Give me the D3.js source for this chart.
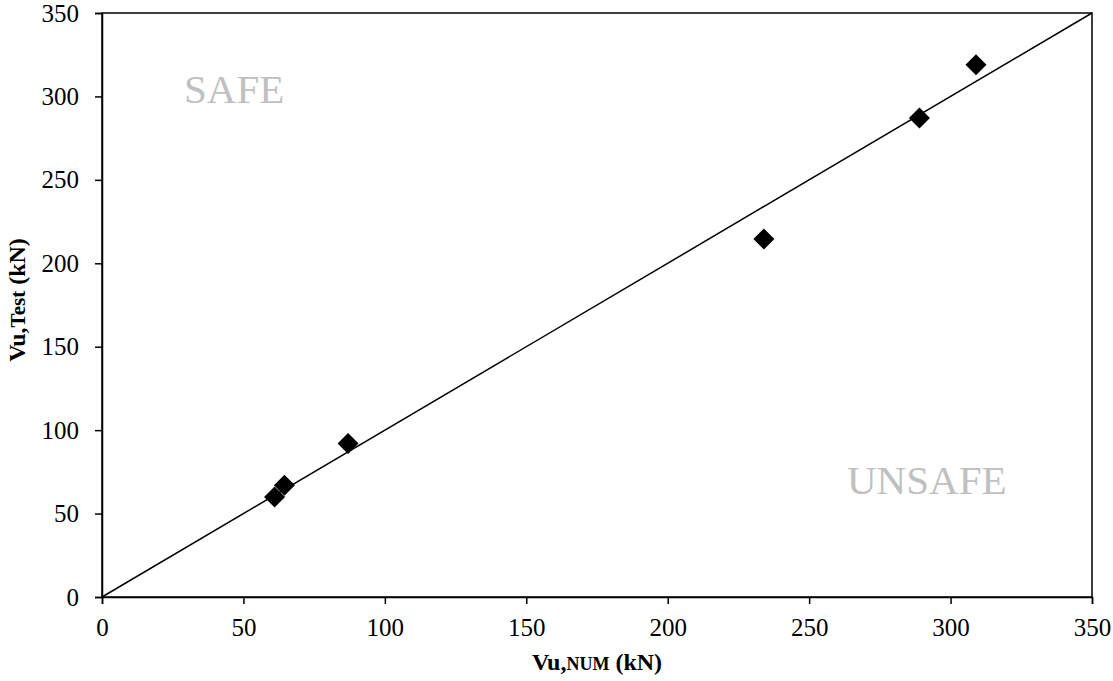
<!DOCTYPE html>
<html><head><meta charset="utf-8">
<script src="https://cdn.jsdelivr.net/npm/d3@7"></script>
<style>body{margin:0;background:#fff}svg{display:block}</style>
</head><body>
<script>
const vuNum = [61, 64.5, 87, 234, 289, 309];
const vuTest = [60, 67, 92, 214.5, 287, 319];
const xTicks = [0, 50, 100, 150, 200, 250, 300, 350];
const yTicks = [0, 50, 100, 150, 200, 250, 300, 350];
const lineNum = [0, 350];
const lineTest = [0, 350];

const W = 1113, H = 681;
const m = {left: 102, right: 21, top: 13, bottom: 84};
const svg = d3.select("body").append("svg").attr("width", W).attr("height", H);
const x = d3.scaleLinear().domain([0, 350]).range([m.left, W - m.right]);
const y = d3.scaleLinear().domain([0, 350]).range([H - m.bottom, m.top]);
const font = "Liberation Serif, Times New Roman, serif";

// frame
svg.append("rect").attr("x", x(0)).attr("y", y(350)).attr("width", x(350) - x(0)).attr("height", y(0) - y(350))
  .attr("fill", "none").attr("stroke", "#000").attr("stroke-width", 1.5);

const xa = svg.append("g").attr("transform", `translate(0,${y(0)})`)
  .call(d3.axisBottom(x).tickValues(xTicks).tickSize(7).tickPadding(14));
const ya = svg.append("g").attr("transform", `translate(${x(0)},0)`)
  .call(d3.axisLeft(y).tickValues(yTicks).tickSize(7).tickPadding(16));
[xa, ya].forEach(a => {
  a.attr("font-family", null).attr("font-size", null);
  a.select(".domain").attr("stroke", "#000").attr("stroke-width", 1.5);
  a.selectAll(".tick line").attr("stroke", "#000").attr("stroke-width", 1.5);
  a.selectAll("text").style("font-family", font).style("font-size", "25px").attr("fill", "#000");
});

// diagonal
svg.append("line").attr("x1", x(lineNum[0])).attr("y1", y(lineTest[0]))
  .attr("x2", x(lineNum[1])).attr("y2", y(lineTest[1])).attr("stroke", "#000").attr("stroke-width", 1.5);

// points
const d = 10.5;
svg.selectAll("path.pt").data(vuNum.map((v, i) => [v, vuTest[i]])).enter().append("path")
  .attr("d", p => `M${x(p[0])},${y(p[1]) - d}L${x(p[0]) + d},${y(p[1])}L${x(p[0])},${y(p[1]) + d}L${x(p[0]) - d},${y(p[1])}Z`)
  .attr("fill", "#000");

// region labels
svg.append("text").attr("x", 184).attr("y", 103).text("SAFE")
  .style("font-family", font).style("font-size", "41px").attr("fill", "#c0c0c0");
svg.append("text").attr("x", 847).attr("y", 494).text("UNSAFE")
  .style("font-family", font).style("font-size", "41px").attr("fill", "#c0c0c0");

// x title
const xt = svg.append("text").attr("x", x(175)).attr("y", 670).attr("text-anchor", "middle")
  .style("font-family", font).style("font-weight", "bold").style("font-size", "24px");
xt.append("tspan").text("Vu,");
xt.append("tspan").style("font-size", "18px").text("NUM");
xt.append("tspan").text(" (kN)");

// y title
const yt = svg.append("text").attr("transform", `translate(25,${y(175) - 5}) rotate(-90)`).attr("text-anchor", "middle")
  .style("font-family", font).style("font-weight", "bold").style("font-size", "24px");
yt.append("tspan").text("Vu,");
yt.append("tspan").style("font-size", "21px").text("Test");
yt.append("tspan").text(" (kN)");
</script>
</body></html>
